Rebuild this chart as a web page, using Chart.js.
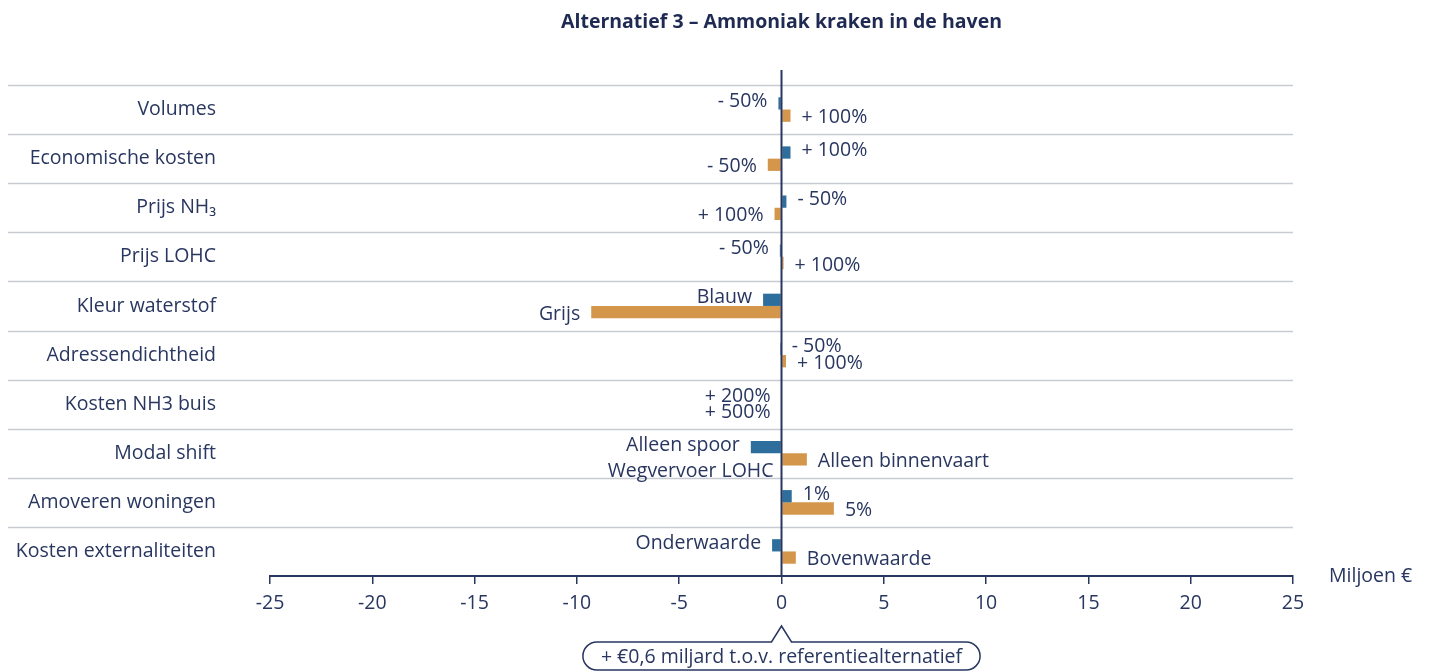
<!DOCTYPE html>
<html>
<head>
<meta charset="utf-8">
<script src="https://cdn.jsdelivr.net/npm/chart.js"></script>
<style>
  body { margin: 0; background: #fff; }
  #wrap { width: 1432px; height: 672px; }
</style>
</head>
<body>
<div id="wrap"><canvas id="chart" width="1432" height="672"></canvas></div>
<script>
var categories = ["Volumes", "Economische kosten", "Prijs NH₃", "Prijs LOHC", "Kleur waterstof",
    "Adressendichtheid", "Kosten NH3 buis", "Modal shift", "Amoveren woningen", "Kosten externaliteiten"];

// blauw = eerste variant, oranje = tweede variant (miljoen euro)
var blueValues   = [-0.15, 0.44, 0.24, -0.08, -0.9, -0.06, 0, -1.5, 0.5, -0.46];
var orangeValues = [0.44, -0.67, -0.34, 0.1, -9.3, 0.22, 0, 1.24, 2.56, 0.7];

var blueLabels   = ["- 50%", "+ 100%", "- 50%", "- 50%", "Blauw", "- 50%", "+ 200%", "Alleen spoor", "1%", "Onderwaarde"];
var orangeLabels = ["+ 100%", "- 50%", "+ 100%", "+ 100%", "Grijs", "+ 100%", "+ 500%", "Alleen binnenvaart", "5%", "Bovenwaarde"];
// kant van het label: L = links van de balk, R = rechts
var blueSide   = ["L", "R", "R", "L", "L", "R", "L", "L", "R", "L"];
var orangeSide = ["R", "L", "L", "R", "L", "R", "L", "R", "R", "R"];
var extraLabels = ["", "", "", "", "", "", "", "Wegvervoer LOHC", "", ""];

var xTicks = [-25, -20, -15, -10, -5, 0, 5, 10, 15, 20, 25];
var title = "Alternatief 3 – Ammoniak kraken in de haven";
var unit = "Miljoen €";
var note = "+ €0,6 miljard t.o.v. referentiealternatief";

var navy = "#283660";
var font = "'Open Sans', sans-serif";
var fs = 19.5;

var decor = {
    id: "decor",
    beforeDatasetsDraw: function (chart) {
        var ctx = chart.ctx, a = chart.chartArea;
        var n = categories.length, h = a.height / n;
        ctx.save();
        ctx.strokeStyle = "#c8cbd2";
        ctx.lineWidth = 1.5;
        for (var i = 0; i < n; i++) {
            var y = Math.round(a.top + i * h) + 0.5;
            ctx.beginPath();
            ctx.moveTo(8, y);
            ctx.lineTo(a.right, y);
            ctx.stroke();
        }
        ctx.restore();
    },
    afterDatasetsDraw: function (chart) {
        var ctx = chart.ctx, a = chart.chartArea;
        var xs = chart.scales.x;
        var x0 = xs.getPixelForValue(0);
        ctx.save();
        // nullijn
        ctx.strokeStyle = navy;
        ctx.lineWidth = 2;
        ctx.beginPath();
        ctx.moveTo(x0, a.top - 15);
        ctx.lineTo(x0, a.bottom);
        ctx.stroke();

        // labels bij de balken
        ctx.font = fs + "px " + font;
        ctx.fillStyle = navy;
        ctx.textBaseline = "middle";
        var gap = 11;
        function put(bar, text, side, dy) {
            var left = Math.min(bar.x, bar.base), right = Math.max(bar.x, bar.base);
            if (side === "L") {
                ctx.textAlign = "right";
                ctx.fillText(text, left - gap, bar.y + dy);
            } else {
                ctx.textAlign = "left";
                ctx.fillText(text, right + gap, bar.y + dy);
            }
        }
        var b0 = chart.getDatasetMeta(0).data, b1 = chart.getDatasetMeta(1).data;
        for (var i = 0; i < categories.length; i++) {
            put(b0[i], blueLabels[i], blueSide[i], -2);
            put(b1[i], orangeLabels[i], orangeSide[i], 2);
            if (extraLabels[i]) {
                ctx.textAlign = "right";
                ctx.fillText(extraLabels[i], x0 - 8, b1[i].y + 12);
            }
        }

        // titel
        ctx.font = "bold " + fs + "px " + font;
        ctx.textAlign = "center";
        ctx.fillStyle = "#1f2a52";
        ctx.fillText(title, (a.left + a.right) / 2, 22);

        // eenheid
        ctx.font = fs + "px " + font;
        ctx.fillStyle = navy;
        ctx.textAlign = "left";
        ctx.fillText(unit, a.right + 36, a.bottom);

        // notitie onder de as
        var tw = ctx.measureText(note).width;
        var bw = tw + 36, top = a.bottom + 66, bh = 28, r = 14;
        var bl = x0 - bw / 2, br = x0 + bw / 2;
        ctx.strokeStyle = navy;
        ctx.lineWidth = 1.5;
        ctx.beginPath();
        ctx.moveTo(bl + r, top);
        ctx.lineTo(x0 - 10, top);
        ctx.lineTo(x0, top - 16);
        ctx.lineTo(x0 + 10, top);
        ctx.lineTo(br - r, top);
        ctx.arcTo(br, top, br, top + r, r);
        ctx.arcTo(br, top + bh, br - r, top + bh, r);
        ctx.lineTo(bl + r, top + bh);
        ctx.arcTo(bl, top + bh, bl, top + bh - r, r);
        ctx.arcTo(bl, top, bl + r, top, r);
        ctx.closePath();
        ctx.stroke();
        ctx.textAlign = "center";
        ctx.fillText(note, x0, top + bh / 2 + 1);
        ctx.restore();
    }
};

new Chart(document.getElementById("chart").getContext("2d"), {
    type: "bar",
    data: {
        labels: categories,
        datasets: [
            { data: blueValues, backgroundColor: "#2e6e9c", categoryPercentage: 0.5, barPercentage: 1.0 },
            { data: orangeValues, backgroundColor: "#d4964a", categoryPercentage: 0.5, barPercentage: 1.0 }
        ]
    },
    options: {
        indexAxis: "y",
        responsive: false,
        animation: false,
        layout: { padding: { left: 8, right: 139, top: 85, bottom: 0 } },
        plugins: { legend: { display: false }, tooltip: { enabled: false } },
        scales: {
            x: {
                min: -25, max: 25,
                afterFit: function (s) { s.height = 96; },
                afterBuildTicks: function (s) { s.ticks = xTicks.map(function (v) { return { value: v }; }); },
                ticks: { color: navy, font: { family: font, size: fs }, padding: 8 },
                grid: { drawOnChartArea: false, drawTicks: true, tickLength: 8, color: navy, lineWidth: 1.5 },
                border: { display: true, color: navy, width: 2 }
            },
            y: {
                afterFit: function (s) { s.width = 262; },
                ticks: { color: navy, font: { family: font, size: fs }, padding: 54 },
                grid: { display: false, drawTicks: false },
                border: { display: false }
            }
        }
    },
    plugins: [decor]
});
</script>
</body>
</html>
